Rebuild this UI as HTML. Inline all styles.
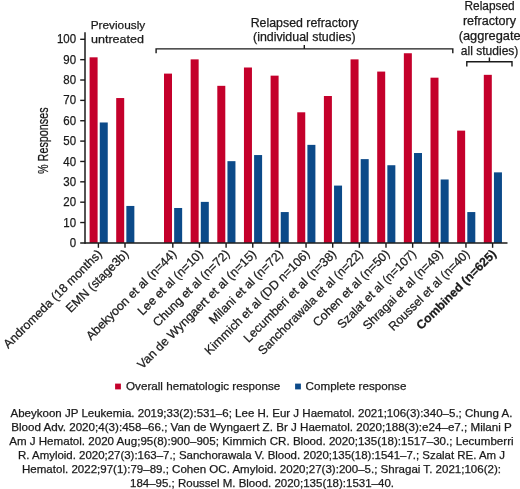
<!DOCTYPE html><html lang="en"><head><meta charset="utf-8"><title>Hematologic response rates</title><style>html,body{margin:0;padding:0;background:#fff}svg{display:block}text{font-family:"Liberation Sans",sans-serif;fill:#1a1a1a;stroke:#1a1a1a;stroke-width:0.25px}</style></head><body>
<svg width="520" height="489" viewBox="0 0 520 489">
<rect width="520" height="489" fill="#fff"/>
<rect x="89.60" y="57.32" width="8" height="185.58" fill="#c4002b"/>
<rect x="99.75" y="122.48" width="8" height="120.42" fill="#0c4a89"/>
<rect x="116.20" y="98.04" width="8" height="144.86" fill="#c4002b"/>
<rect x="126.35" y="205.95" width="8" height="36.95" fill="#0c4a89"/>
<rect x="164.00" y="73.61" width="8" height="169.29" fill="#c4002b"/>
<rect x="174.15" y="207.99" width="8" height="34.91" fill="#0c4a89"/>
<rect x="190.65" y="59.36" width="8" height="183.54" fill="#c4002b"/>
<rect x="200.80" y="201.88" width="8" height="41.02" fill="#0c4a89"/>
<rect x="217.30" y="85.83" width="8" height="157.07" fill="#c4002b"/>
<rect x="227.45" y="161.16" width="8" height="81.74" fill="#0c4a89"/>
<rect x="243.95" y="67.50" width="8" height="175.40" fill="#c4002b"/>
<rect x="254.10" y="155.05" width="8" height="87.85" fill="#0c4a89"/>
<rect x="270.60" y="75.65" width="8" height="167.25" fill="#c4002b"/>
<rect x="280.75" y="212.06" width="8" height="30.84" fill="#0c4a89"/>
<rect x="297.25" y="112.30" width="8" height="130.60" fill="#c4002b"/>
<rect x="307.40" y="144.87" width="8" height="98.03" fill="#0c4a89"/>
<rect x="323.90" y="96.01" width="8" height="146.89" fill="#c4002b"/>
<rect x="334.05" y="185.59" width="8" height="57.31" fill="#0c4a89"/>
<rect x="350.55" y="59.36" width="8" height="183.54" fill="#c4002b"/>
<rect x="360.70" y="159.12" width="8" height="83.78" fill="#0c4a89"/>
<rect x="377.20" y="71.58" width="8" height="171.32" fill="#c4002b"/>
<rect x="387.35" y="165.23" width="8" height="77.67" fill="#0c4a89"/>
<rect x="403.85" y="53.25" width="8" height="189.65" fill="#c4002b"/>
<rect x="414.00" y="153.02" width="8" height="89.88" fill="#0c4a89"/>
<rect x="430.50" y="77.68" width="8" height="165.22" fill="#c4002b"/>
<rect x="440.65" y="179.48" width="8" height="63.42" fill="#0c4a89"/>
<rect x="457.15" y="130.62" width="8" height="112.28" fill="#c4002b"/>
<rect x="467.30" y="212.06" width="8" height="30.84" fill="#0c4a89"/>
<rect x="483.80" y="74.83" width="8" height="168.07" fill="#c4002b"/>
<rect x="493.95" y="172.36" width="8" height="70.54" fill="#0c4a89"/>
<g stroke="#1a1a1a" stroke-width="1.4" fill="none">
<path stroke-width="1.5" d="M85 32.2V243.65"/>
<path stroke-width="1.5" d="M80.2 242.90H507.5"/>
<path d="M80.2 222.54H85"/>
<path d="M80.2 202.18H85"/>
<path d="M80.2 181.82H85"/>
<path d="M80.2 161.46H85"/>
<path d="M80.2 141.10H85"/>
<path d="M80.2 120.74H85"/>
<path d="M80.2 100.38H85"/>
<path d="M80.2 80.02H85"/>
<path d="M80.2 59.66H85"/>
<path d="M80.2 39.30H85"/>
<path d="M98.40 242.90V247.80"/>
<path d="M125.00 242.90V247.80"/>
<path d="M172.80 242.90V247.80"/>
<path d="M199.45 242.90V247.80"/>
<path d="M226.10 242.90V247.80"/>
<path d="M252.75 242.90V247.80"/>
<path d="M279.40 242.90V247.80"/>
<path d="M306.05 242.90V247.80"/>
<path d="M332.70 242.90V247.80"/>
<path d="M359.35 242.90V247.80"/>
<path d="M386.00 242.90V247.80"/>
<path d="M412.65 242.90V247.80"/>
<path d="M439.30 242.90V247.80"/>
<path d="M465.95 242.90V247.80"/>
<path d="M492.60 242.90V247.80"/>
<path d="M156.1 53.2V48.9H452.8V53.2M304.3 48.9V45"/>
<path d="M466.8 66.4V61.8H512V66.4M489.4 61.8V57.6"/>
</g>
<text x="76.10" y="247.00" font-size="11.9" text-anchor="end" textLength="6.39" lengthAdjust="spacingAndGlyphs">0</text>
<text x="76.10" y="226.64" font-size="11.9" text-anchor="end" textLength="12.77" lengthAdjust="spacingAndGlyphs">10</text>
<text x="76.10" y="206.28" font-size="11.9" text-anchor="end" textLength="12.77" lengthAdjust="spacingAndGlyphs">20</text>
<text x="76.10" y="185.92" font-size="11.9" text-anchor="end" textLength="12.77" lengthAdjust="spacingAndGlyphs">30</text>
<text x="76.10" y="165.56" font-size="11.9" text-anchor="end" textLength="12.77" lengthAdjust="spacingAndGlyphs">40</text>
<text x="76.10" y="145.20" font-size="11.9" text-anchor="end" textLength="12.77" lengthAdjust="spacingAndGlyphs">50</text>
<text x="76.10" y="124.84" font-size="11.9" text-anchor="end" textLength="12.77" lengthAdjust="spacingAndGlyphs">60</text>
<text x="76.10" y="104.48" font-size="11.9" text-anchor="end" textLength="12.77" lengthAdjust="spacingAndGlyphs">70</text>
<text x="76.10" y="84.12" font-size="11.9" text-anchor="end" textLength="12.77" lengthAdjust="spacingAndGlyphs">80</text>
<text x="76.10" y="63.76" font-size="11.9" text-anchor="end" textLength="12.77" lengthAdjust="spacingAndGlyphs">90</text>
<text x="76.10" y="43.40" font-size="11.9" text-anchor="end" textLength="19.15" lengthAdjust="spacingAndGlyphs">100</text>
<text transform="translate(47.7,140.7) rotate(-90)" x="0.00" y="0.00" font-size="15" stroke="none" text-anchor="middle" textLength="66.60" lengthAdjust="spacingAndGlyphs">% Responses</text>
<text x="90.70" y="28.90" font-size="11.8" textLength="54.50" lengthAdjust="spacingAndGlyphs">Previously</text>
<text x="91.00" y="43.30" font-size="11.8" textLength="53.00" lengthAdjust="spacingAndGlyphs">untreated</text>
<text x="304.60" y="26.50" font-size="12.2" text-anchor="middle" textLength="107.80" lengthAdjust="spacingAndGlyphs">Relapsed refractory</text>
<text x="304.30" y="40.80" font-size="12.2" text-anchor="middle" textLength="102.60" lengthAdjust="spacingAndGlyphs">(individual studies)</text>
<text x="489.60" y="10.40" font-size="12.2" text-anchor="middle" textLength="50.20" lengthAdjust="spacingAndGlyphs">Relapsed</text>
<text x="489.50" y="25.30" font-size="12.2" text-anchor="middle" textLength="53.20" lengthAdjust="spacingAndGlyphs">refractory</text>
<text x="489.70" y="40.20" font-size="12.2" text-anchor="middle" textLength="62.00" lengthAdjust="spacingAndGlyphs">(aggregate</text>
<text x="489.60" y="55.10" font-size="12.2" text-anchor="middle" textLength="57.60" lengthAdjust="spacingAndGlyphs">all studies)</text>
<text transform="translate(102.70,254.70) rotate(-45)" x="0.00" y="0.00" font-size="12.2" text-anchor="end" textLength="133.44" lengthAdjust="spacingAndGlyphs">Andromeda (18 months)</text>
<text transform="translate(129.30,254.70) rotate(-45)" x="0.00" y="0.00" font-size="12.2" text-anchor="end" textLength="82.85" lengthAdjust="spacingAndGlyphs">EMN (stage3b)</text>
<text transform="translate(177.10,254.70) rotate(-45)" x="0.00" y="0.00" font-size="12.2" text-anchor="end" textLength="121.84" lengthAdjust="spacingAndGlyphs">Abekyoon et al (n=44)</text>
<text transform="translate(203.75,254.70) rotate(-45)" x="0.00" y="0.00" font-size="12.2" text-anchor="end" textLength="86.69" lengthAdjust="spacingAndGlyphs">Lee et al (n=10)</text>
<text transform="translate(230.40,254.70) rotate(-45)" x="0.00" y="0.00" font-size="12.2" text-anchor="end" textLength="102.63" lengthAdjust="spacingAndGlyphs">Chung et al (n=72)</text>
<text transform="translate(257.05,254.70) rotate(-45)" x="0.00" y="0.00" font-size="12.2" text-anchor="end" textLength="162.19" lengthAdjust="spacingAndGlyphs">Van de Wyngaert et al (n=15)</text>
<text transform="translate(283.70,254.70) rotate(-45)" x="0.00" y="0.00" font-size="12.2" text-anchor="end" textLength="98.95" lengthAdjust="spacingAndGlyphs">Milani et al (n=72)</text>
<text transform="translate(310.35,254.70) rotate(-45)" x="0.00" y="0.00" font-size="12.2" text-anchor="end" textLength="142.59" lengthAdjust="spacingAndGlyphs">Kimmich et al (DD n=106)</text>
<text transform="translate(337.00,254.70) rotate(-45)" x="0.00" y="0.00" font-size="12.2" text-anchor="end" textLength="125.09" lengthAdjust="spacingAndGlyphs">Lecumberi et al (n=38)</text>
<text transform="translate(363.65,254.70) rotate(-45)" x="0.00" y="0.00" font-size="12.2" text-anchor="end" textLength="142.41" lengthAdjust="spacingAndGlyphs">Sanchorawala et al (n=22)</text>
<text transform="translate(390.30,254.70) rotate(-45)" x="0.00" y="0.00" font-size="12.2" text-anchor="end" textLength="102.63" lengthAdjust="spacingAndGlyphs">Cohen et al (n=50)</text>
<text transform="translate(416.95,254.70) rotate(-45)" x="0.00" y="0.00" font-size="12.2" text-anchor="end" textLength="105.47" lengthAdjust="spacingAndGlyphs">Szalat et al (n=107)</text>
<text transform="translate(443.60,254.70) rotate(-45)" x="0.00" y="0.00" font-size="12.2" text-anchor="end" textLength="107.36" lengthAdjust="spacingAndGlyphs">Shragai et al (n=49)</text>
<text transform="translate(470.25,254.70) rotate(-45)" x="0.00" y="0.00" font-size="12.2" text-anchor="end" textLength="108.44" lengthAdjust="spacingAndGlyphs">Roussel et al (n=40)</text>
<text transform="translate(496.90,254.70) rotate(-45)" x="0.00" y="0.00" font-size="12.2" font-weight="bold" stroke="none" text-anchor="end" textLength="106.92" lengthAdjust="spacingAndGlyphs">Combined (n=625)</text>
<rect x="115.1" y="383.6" width="5.8" height="5.8" fill="#c4002b"/>
<text x="126.00" y="389.90" font-size="11.8" textLength="154.30" lengthAdjust="spacingAndGlyphs">Overall hematologic response</text>
<rect x="295.1" y="383.6" width="5.8" height="5.8" fill="#0c4a89"/>
<text x="305.60" y="389.90" font-size="11.8" textLength="100.80" lengthAdjust="spacingAndGlyphs">Complete response</text>
<text x="10.50" y="417.00" font-size="11.2" textLength="501.90" lengthAdjust="spacingAndGlyphs">Abeykoon JP Leukemia. 2019;33(2):531–6; Lee H. Eur J Haematol. 2021;106(3):340–5.; Chung A.</text>
<text x="11.30" y="430.90" font-size="11.2" textLength="500.50" lengthAdjust="spacingAndGlyphs">Blood Adv. 2020;4(3):458–66.; Van de Wyngaert Z. Br J Haematol. 2020;188(3):e24–e7.; Milani P</text>
<text x="9.20" y="444.80" font-size="11.2" textLength="504.40" lengthAdjust="spacingAndGlyphs">Am J Hematol. 2020 Aug;95(8):900–905; Kimmich CR. Blood. 2020;135(18):1517–30.; Lecumberri</text>
<text x="18.00" y="458.70" font-size="11.2" textLength="487.00" lengthAdjust="spacingAndGlyphs">R. Amyloid. 2020;27(3):163–7.; Sanchorawala V. Blood. 2020;135(18):1541–7.; Szalat RE. Am J</text>
<text x="22.00" y="472.60" font-size="11.2" textLength="479.00" lengthAdjust="spacingAndGlyphs">Hematol. 2022;97(1):79–89.; Cohen OC. Amyloid. 2020;27(3):200–5.; Shragai T. 2021;106(2):</text>
<text x="130.00" y="486.50" font-size="11.2" textLength="264.00" lengthAdjust="spacingAndGlyphs">184–95.; Roussel M. Blood. 2020;135(18):1531–40.</text>
</svg></body></html>
